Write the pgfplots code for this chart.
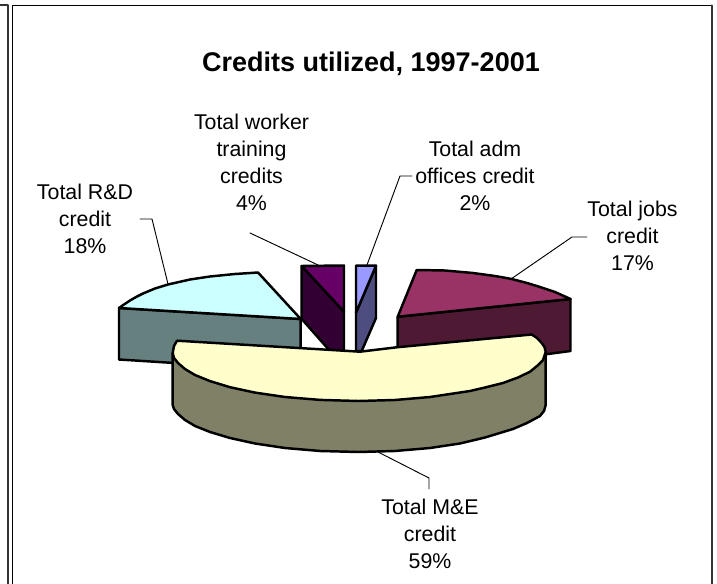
\documentclass[border=0pt]{standalone}
\usepackage{fontspec}
\setmainfont{Liberation Sans}
\usepackage{pgfplots}
\pgfplotsset{compat=1.18}
\definecolor{rdtop}{HTML}{CCFFFF}
\definecolor{rdside}{HTML}{668080}
\definecolor{wtop}{HTML}{660066}
\definecolor{wside}{HTML}{330033}
\definecolor{admtop}{HTML}{9999FF}
\definecolor{admside}{HTML}{4D4D80}
\definecolor{jobtop}{HTML}{993366}
\definecolor{jobside}{HTML}{4D1933}
\definecolor{metop}{HTML}{FFFFCC}
\definecolor{meside}{HTML}{808066}
\definecolor{rule}{HTML}{333333}
\tikzset{
  slice/.style={draw=black, line width=1.85pt},
  leader/.style={draw=black, line width=0.7pt},
  lab/.style={font=\fontsize{16}{20.2}\selectfont, align=center, anchor=center, inner sep=0pt}
}
\begin{document}
\begin{tikzpicture}
\begin{axis}[
  scale only axis, width=537.75pt, height=438pt,
  xmin=0, xmax=717, ymin=0, ymax=584, y dir=reverse,
  axis lines=none, clip=true,
  every axis plot/.append style={line join=round, line cap=round}
]
% white page background
\addplot[fill=white, draw=none] coordinates {(0,0) (717,0) (717,584) (0,584)} --cycle;
% page frames
\addplot[draw=rule, line width=1.5pt] coordinates {(0,5.5) (7.5,5.5) (7.5,584)};
\addplot[draw=black, line width=0.9pt] coordinates {(12.5,584) (12.5,5.5) (711.5,5.5)};
\addplot[draw=rule, line width=1.5pt] coordinates {(711.5,5.5) (711.5,584)};
% leader lines
\addplot[leader] coordinates {(140,219) (152,219) (168,284)};
\addplot[leader] coordinates {(250,233) (318,265)};
\addplot[leader] coordinates {(412,176) (400,176) (367,265)};
\addplot[leader] coordinates {(587,237) (572,237) (511,279)};
\addplot[leader] coordinates {(378,452) (429,478) (429,489)};
% R&D slice
\addplot[slice, fill=rdside] coordinates {(119,308) (300.7,319) (300.7,371) (119,359.5)} --cycle;
\addplot[slice, fill=rdtop] coordinates {(119,308) (124,304.5) (130,300.5) (137,296.5) (143,293.5) (155,288.5) (168,284.5) (190,279.5) (210,276.5) (235,274) (258,272.5) (300.7,319)} --cycle;
% worker training slice
\addplot[slice, fill=wside] coordinates {(301.7,266) (344,311.7) (344,351) (330,351) (301.7,319)} --cycle;
\addplot[slice, fill=wtop] coordinates {(301.7,266) (344,265.5) (344,311.7)} --cycle;
% administrative offices slice
\addplot[slice, fill=admside] coordinates {(376,265.7) (376,318) (361.7,351) (356,351) (356,312.7)} --cycle;
\addplot[slice, fill=admtop] coordinates {(356,265.7) (376,265.7) (356,312.7)} --cycle;
% jobs slice
\addplot[slice, fill=jobside] coordinates {(397.7,316.7) (570.5,299) (570.5,351) (397.7,374)} --cycle;
\addplot[slice, fill=jobtop] coordinates {(416.7,270) (445,270.5) (473,273) (495,276) (511.7,279) (527,283) (540,287) (555,292) (570.5,299) (397.7,316.7)} --cycle;
% M&E slice
\addplot[slice, fill=meside] coordinates {(172.7,353) (172.7,405) (174,409) (178,414) (185,420) (195,426) (210,432) (230,438) (255,443.5) (285,448) (320,451) (358.5,452) (395,451) (430,448) (460,443.5) (485,437.5) (513,429) (527,423) (540,416) (544,411) (545.7,405) (545.7,352)};
\addplot[slice, fill=metop] coordinates {(177,340.7) (174,346) (172.7,353) (174,358) (178,363) (185,369) (195,375) (210,381.1) (230,387.2) (255,392.6) (285,397) (320,399.9) (358.5,401) (395,400) (430,397) (470,391) (485,387.5) (503,383) (518,377.5) (530,371.7) (537,366) (543,360) (545.7,352) (544.5,347) (541.7,343) (537,338) (531.7,334.5) (396.7,347.3) (360,351.7)} --cycle;
% labels and title
\node[lab, font=\bfseries\fontsize{20.25}{24}\selectfont] at (axis cs:371,63.5) {Credits utilized, 1997-2001};
\node[lab] at (axis cs:251.5,162.5) {Total worker\\training\\credits\\4\%};
\node[lab] at (axis cs:475,176) {Total adm\\offices credit\\2\%};
\node[lab] at (axis cs:85,219) {Total R\&D\\credit\\18\%};
\node[lab] at (axis cs:632.5,236) {Total jobs\\credit\\17\%};
\node[lab] at (axis cs:430,534) {Total M\&E\\credit\\59\%};
\end{axis}
\end{tikzpicture}
\end{document}
